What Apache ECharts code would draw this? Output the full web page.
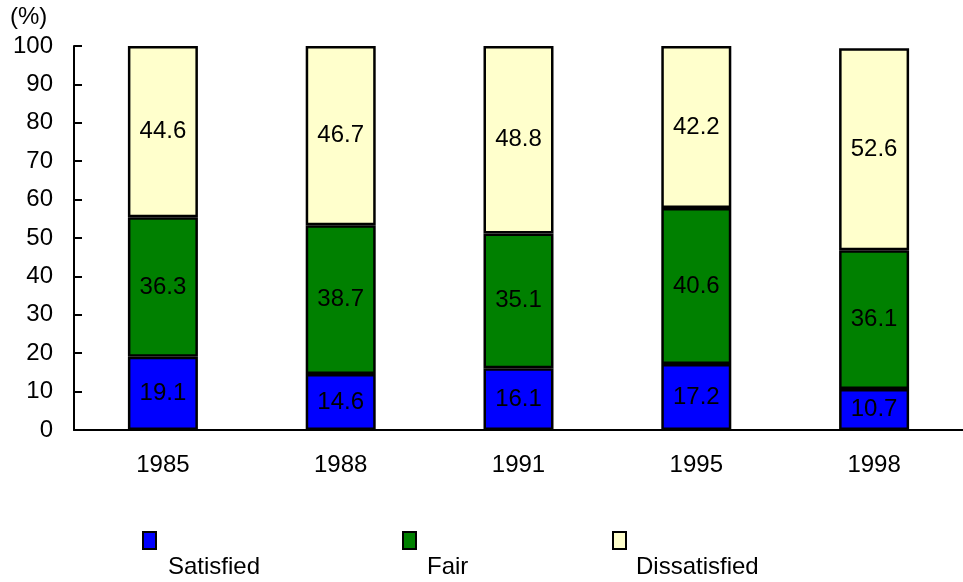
<!DOCTYPE html>
<html>
<head>
<meta charset="utf-8">
<script src="https://cdn.jsdelivr.net/npm/echarts@6/dist/echarts.min.js"></script>
<style>
  html, body { margin: 0; padding: 0; background: #ffffff; }
  #chart { width: 963px; height: 582px; }
</style>
</head>
<body>
<div id="chart"></div>
<script>
var years = ["1985", "1988", "1991", "1995", "1998"];
var satisfied = [19.1, 14.6, 16.1, 17.2, 10.7];
var fair = [36.3, 38.7, 35.1, 40.6, 36.1];
var dissatisfied = [44.6, 46.7, 48.8, 42.2, 52.6];
var yTicks = [0, 10, 20, 30, 40, 50, 60, 70, 80, 90, 100];

var font = "Liberation Sans, Arial, sans-serif";

function barSeries(name, data, color) {
  return {
    name: name,
    type: "bar",
    stack: "total",
    data: data,
    barWidth: 70,
    itemStyle: { color: color, borderColor: "#000", borderWidth: 2.5 },
    label: {
      show: true,
      position: "inside",
      color: "#000",
      fontFamily: font,
      fontSize: 24,
      formatter: function (p) { return p.value.toFixed(1); },
    },
  };
}

// one legend box per item, text drawn underneath as graphic
function legendBox(name, left) {
  return {
    data: [name],
    left: left,
    top: 531,
    padding: 0,
    itemWidth: 13,
    itemHeight: 17,
    icon: "rect",
    selectedMode: false,
    formatter: function () { return ""; },
    itemStyle: { borderColor: "#000", borderWidth: 2 },
  };
}

var chart = echarts.init(document.getElementById("chart"));
chart.setOption({
  animation: false,
  grid: { left: 74, right: 0, top: 46, bottom: 152 },
  xAxis: {
    type: "category",
    data: years,
    axisLine: { lineStyle: { color: "#000", width: 2 } },
    axisTick: { inside: true, length: 9, lineStyle: { color: "#000", width: 2 } },
    axisLabel: { color: "#000", fontFamily: font, fontSize: 24, margin: 23 },
  },
  yAxis: {
    type: "value",
    min: yTicks[0],
    max: yTicks[yTicks.length - 1],
    interval: 10,
    splitLine: { show: false },
    axisLine: { show: true, lineStyle: { color: "#000", width: 2 } },
    axisTick: { show: true, inside: true, length: 8, lineStyle: { color: "#000", width: 2 } },
    axisLabel: { color: "#000", fontFamily: font, fontSize: 24, margin: 21 },
  },
  legend: [
    legendBox("Satisfied", 142),
    legendBox("Fair", 402),
    legendBox("Dissatisfied", 612),
  ],
  graphic: [
    { type: "text", left: 10, top: 5, style: { text: "(%)", font: "24px " + font, fill: "#000" } },
    { type: "text", left: 168, top: 555, style: { text: "Satisfied", font: "24px " + font, fill: "#000" } },
    { type: "text", left: 427, top: 555, style: { text: "Fair", font: "24px " + font, fill: "#000" } },
    { type: "text", left: 636, top: 555, style: { text: "Dissatisfied", font: "24px " + font, fill: "#000" } },
  ],
  series: [
    barSeries("Satisfied", satisfied, "#0000ff"),
    barSeries("Fair", fair, "#008000"),
    barSeries("Dissatisfied", dissatisfied, "#ffffcc"),
  ],
});
</script>
</body>
</html>
